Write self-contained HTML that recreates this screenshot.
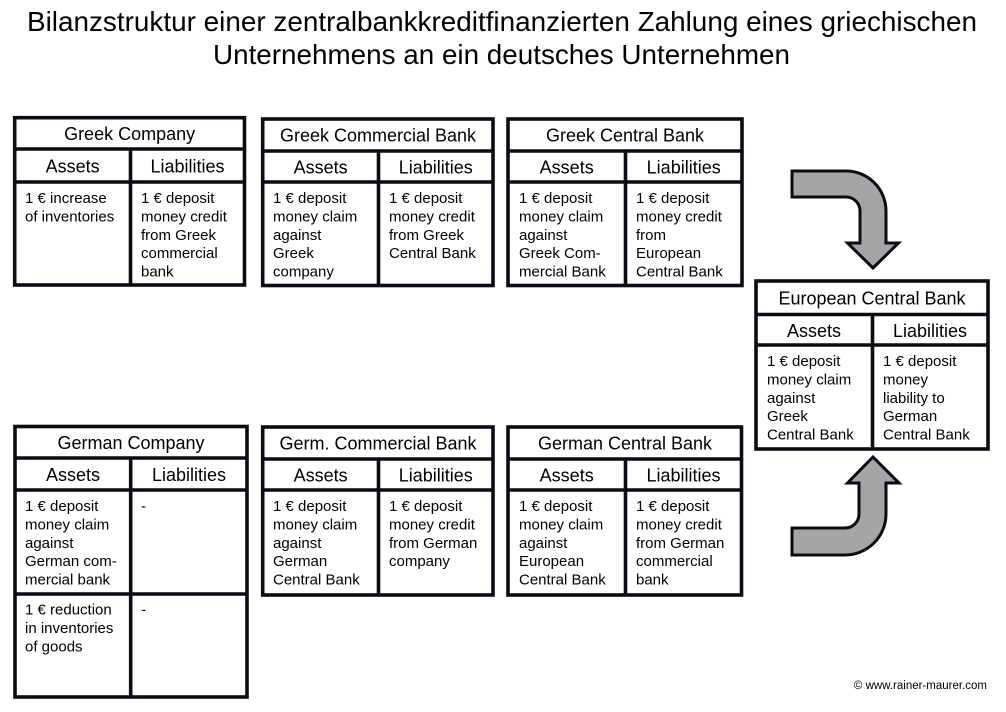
<!DOCTYPE html>
<html>
<head>
<meta charset="utf-8">
<style>
  html,body{margin:0;padding:0;background:#fff;}
  svg{display:block;}
  text{font-family:"Liberation Sans",Arial,sans-serif;fill:#000;}
  .tt{font-size:18px;text-anchor:middle;}
  .bd{font-size:15px;}
  .ln{stroke:#0b0b16;stroke-width:3.6;fill:none;}
</style>
</head>
<body>
<svg width="1006" height="712" viewBox="0 0 1006 712" xmlns="http://www.w3.org/2000/svg">
  <rect x="0" y="0" width="1006" height="712" fill="#fff"/>

  <!-- Main title -->
  <text x="502" y="31" font-size="28" text-anchor="middle" textLength="950" lengthAdjust="spacingAndGlyphs">Bilanzstruktur einer zentralbankkreditfinanzierten Zahlung eines griechischen</text>
  <text x="501.5" y="64" font-size="28" text-anchor="middle" textLength="577" lengthAdjust="spacingAndGlyphs">Unternehmens an ein deutsches Unternehmen</text>

  <!-- ===== Greek Company ===== -->
  <g>
    <rect class="ln" x="14.7" y="117.7" width="229.8" height="167.3"/>
    <line class="ln" x1="14.7" y1="149" x2="244.5" y2="149"/>
    <line class="ln" x1="14.7" y1="182" x2="244.5" y2="182"/>
    <line class="ln" x1="130.5" y1="149" x2="130.5" y2="285"/>
    <text class="tt" x="129.6" y="140">Greek Company</text>
    <text class="tt" x="72.6" y="172.5">Assets</text>
    <text class="tt" x="187.5" y="172.5">Liabilities</text>
    <text class="bd" x="25" y="203"><tspan x="25">1 € increase</tspan><tspan x="25" dy="18.4">of inventories</tspan></text>
    <text class="bd" x="141" y="203"><tspan x="141">1 € deposit</tspan><tspan x="141" dy="18.4">money credit</tspan><tspan x="141" dy="18.4">from Greek</tspan><tspan x="141" dy="18.4">commercial</tspan><tspan x="141" dy="18.4">bank</tspan></text>
  </g>

  <!-- ===== Greek Commercial Bank ===== -->
  <g>
    <rect class="ln" x="262.7" y="119" width="230.3" height="166.5"/>
    <line class="ln" x1="262.7" y1="151" x2="493" y2="151"/>
    <line class="ln" x1="262.7" y1="182" x2="493" y2="182"/>
    <line class="ln" x1="378.5" y1="151" x2="378.5" y2="285.5"/>
    <text class="tt" x="378" y="141.5">Greek Commercial Bank</text>
    <text class="tt" x="320.6" y="173.5">Assets</text>
    <text class="tt" x="435.8" y="173.5">Liabilities</text>
    <text class="bd" x="273" y="203"><tspan x="273">1 € deposit</tspan><tspan x="273" dy="18.4">money claim</tspan><tspan x="273" dy="18.4">against</tspan><tspan x="273" dy="18.4">Greek</tspan><tspan x="273" dy="18.4">company</tspan></text>
    <text class="bd" x="389" y="203"><tspan x="389">1 € deposit</tspan><tspan x="389" dy="18.4">money credit</tspan><tspan x="389" dy="18.4">from Greek</tspan><tspan x="389" dy="18.4">Central Bank</tspan></text>
  </g>

  <!-- ===== Greek Central Bank ===== -->
  <g>
    <rect class="ln" x="508" y="119" width="234" height="166.5"/>
    <line class="ln" x1="508" y1="151" x2="742" y2="151"/>
    <line class="ln" x1="508" y1="182" x2="742" y2="182"/>
    <line class="ln" x1="625.5" y1="151" x2="625.5" y2="285.5"/>
    <text class="tt" x="625" y="141.5">Greek Central Bank</text>
    <text class="tt" x="566.7" y="173.5">Assets</text>
    <text class="tt" x="683.7" y="173.5">Liabilities</text>
    <text class="bd" x="519" y="203"><tspan x="519">1 € deposit</tspan><tspan x="519" dy="18.4">money claim</tspan><tspan x="519" dy="18.4">against</tspan><tspan x="519" dy="18.4">Greek Com-</tspan><tspan x="519" dy="18.4">mercial Bank</tspan></text>
    <text class="bd" x="636" y="203"><tspan x="636">1 € deposit</tspan><tspan x="636" dy="18.4">money credit</tspan><tspan x="636" dy="18.4">from</tspan><tspan x="636" dy="18.4">European</tspan><tspan x="636" dy="18.4">Central Bank</tspan></text>
  </g>

  <!-- ===== European Central Bank ===== -->
  <g>
    <rect class="ln" x="756" y="281" width="232" height="168"/>
    <line class="ln" x1="756" y1="314.5" x2="988" y2="314.5"/>
    <line class="ln" x1="756" y1="345" x2="988" y2="345"/>
    <line class="ln" x1="872.5" y1="314.5" x2="872.5" y2="449"/>
    <text class="tt" x="872" y="304.5">European Central Bank</text>
    <text class="tt" x="814" y="337">Assets</text>
    <text class="tt" x="930" y="337">Liabilities</text>
    <text class="bd" x="767" y="366"><tspan x="767">1 € deposit</tspan><tspan x="767" dy="18.4">money claim</tspan><tspan x="767" dy="18.4">against</tspan><tspan x="767" dy="18.4">Greek</tspan><tspan x="767" dy="18.4">Central Bank</tspan></text>
    <text class="bd" x="883" y="366"><tspan x="883">1 € deposit</tspan><tspan x="883" dy="18.4">money</tspan><tspan x="883" dy="18.4">liability to</tspan><tspan x="883" dy="18.4">German</tspan><tspan x="883" dy="18.4">Central Bank</tspan></text>
  </g>

  <!-- ===== German Company ===== -->
  <g>
    <rect class="ln" x="15" y="426.5" width="232" height="270.5"/>
    <line class="ln" x1="15" y1="458" x2="247" y2="458"/>
    <line class="ln" x1="15" y1="490" x2="247" y2="490"/>
    <line class="ln" x1="15" y1="594" x2="247" y2="594"/>
    <line class="ln" x1="130.7" y1="458" x2="130.7" y2="697"/>
    <text class="tt" x="131" y="449">German Company</text>
    <text class="tt" x="73" y="481">Assets</text>
    <text class="tt" x="189" y="481">Liabilities</text>
    <text class="bd" x="25" y="511"><tspan x="25">1 € deposit</tspan><tspan x="25" dy="18.4">money claim</tspan><tspan x="25" dy="18.4">against</tspan><tspan x="25" dy="18.4">German com-</tspan><tspan x="25" dy="18.4">mercial bank</tspan></text>
    <text class="bd" x="141" y="511">-</text>
    <text class="bd" x="25" y="614.5"><tspan x="25">1 € reduction</tspan><tspan x="25" dy="18.4">in inventories</tspan><tspan x="25" dy="18.4">of goods</tspan></text>
    <text class="bd" x="141" y="614.5">-</text>
  </g>

  <!-- ===== Germ. Commercial Bank ===== -->
  <g>
    <rect class="ln" x="262.7" y="427" width="230.3" height="168"/>
    <line class="ln" x1="262.7" y1="459" x2="493" y2="459"/>
    <line class="ln" x1="262.7" y1="490" x2="493" y2="490"/>
    <line class="ln" x1="378.5" y1="459" x2="378.5" y2="595"/>
    <text class="tt" x="378" y="449.5">Germ. Commercial Bank</text>
    <text class="tt" x="320.6" y="481.5">Assets</text>
    <text class="tt" x="435.8" y="481.5">Liabilities</text>
    <text class="bd" x="273" y="511"><tspan x="273">1 € deposit</tspan><tspan x="273" dy="18.4">money claim</tspan><tspan x="273" dy="18.4">against</tspan><tspan x="273" dy="18.4">German</tspan><tspan x="273" dy="18.4">Central Bank</tspan></text>
    <text class="bd" x="389" y="511"><tspan x="389">1 € deposit</tspan><tspan x="389" dy="18.4">money credit</tspan><tspan x="389" dy="18.4">from German</tspan><tspan x="389" dy="18.4">company</tspan></text>
  </g>

  <!-- ===== German Central Bank ===== -->
  <g>
    <rect class="ln" x="508" y="427" width="233.5" height="168"/>
    <line class="ln" x1="508" y1="459" x2="741.5" y2="459"/>
    <line class="ln" x1="508" y1="490" x2="741.5" y2="490"/>
    <line class="ln" x1="625.5" y1="459" x2="625.5" y2="595"/>
    <text class="tt" x="625" y="449.5">German Central Bank</text>
    <text class="tt" x="566.7" y="481.5">Assets</text>
    <text class="tt" x="683.5" y="481.5">Liabilities</text>
    <text class="bd" x="519" y="511"><tspan x="519">1 € deposit</tspan><tspan x="519" dy="18.4">money claim</tspan><tspan x="519" dy="18.4">against</tspan><tspan x="519" dy="18.4">European</tspan><tspan x="519" dy="18.4">Central Bank</tspan></text>
    <text class="bd" x="636" y="511"><tspan x="636">1 € deposit</tspan><tspan x="636" dy="18.4">money credit</tspan><tspan x="636" dy="18.4">from German</tspan><tspan x="636" dy="18.4">commercial</tspan><tspan x="636" dy="18.4">bank</tspan></text>
  </g>

  <!-- ===== Arrows ===== -->
  <path d="M792,171 L846,171 A40,40 0 0 1 886,211 L886,243 L898.5,243 L873,268 L847.5,243 L860,243 L860,211 A14,14 0 0 0 846,197 L792,197 Z"
        fill="#a5a5a5" stroke="#0b0b16" stroke-width="3" stroke-linejoin="miter"/>
  <path d="M873,457 L899,483 L886,483 L886,514 A41,41 0 0 1 845,555 L792,555 L792,528 L845,528 A14,14 0 0 0 859,514 L859,483 L847.5,483 Z"
        fill="#a5a5a5" stroke="#0b0b16" stroke-width="3" stroke-linejoin="miter"/>

  <!-- Copyright -->
  <text x="987" y="689" font-size="11.5" text-anchor="end">©  www.rainer-maurer.com</text>
</svg>
</body>
</html>
